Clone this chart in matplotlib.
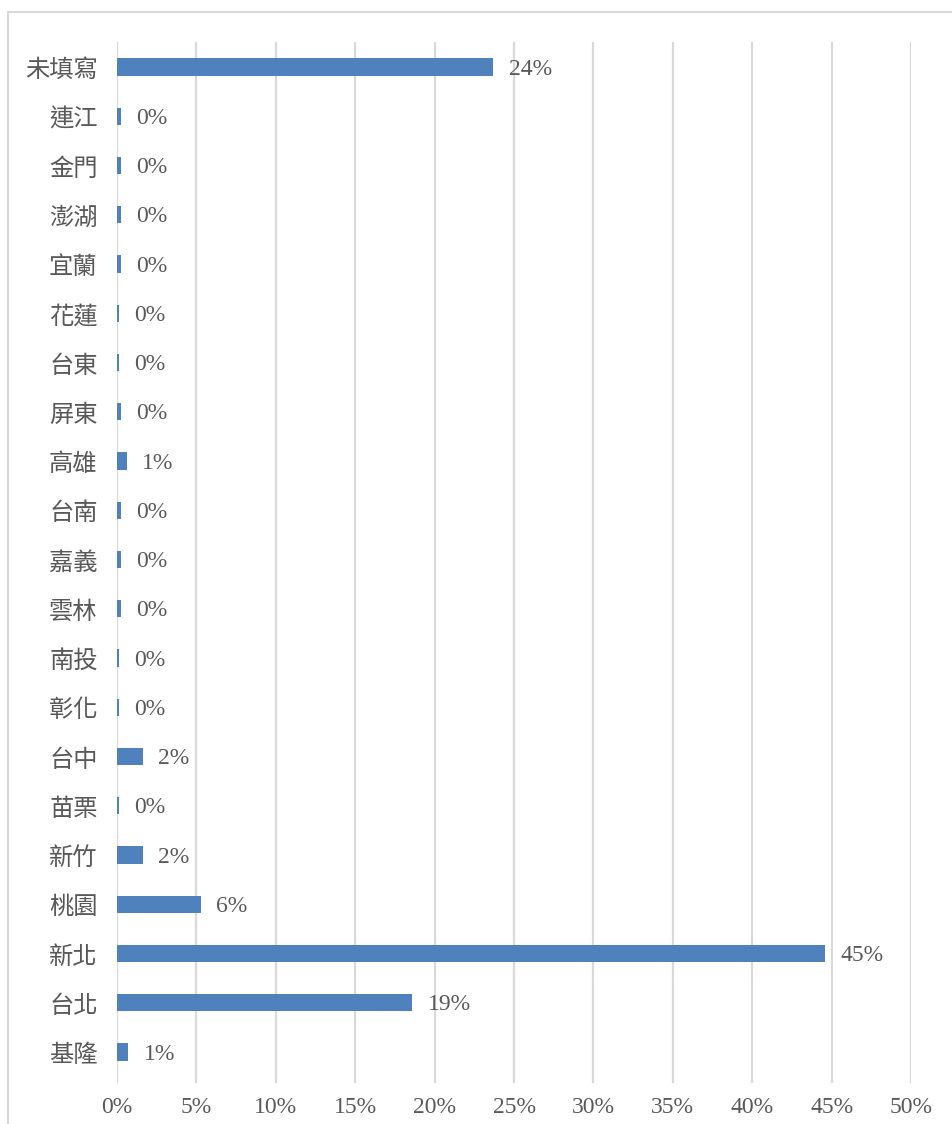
import matplotlib.pyplot as plt
from matplotlib.patches import Rectangle

# categories from bottom to top
regions = ['基隆', '台北', '新北', '桃園', '新竹', '苗栗', '台中', '彰化', '南投', '雲林',
           '嘉義', '台南', '高雄', '屏東', '台東', '花蓮', '宜蘭', '澎湖', '金門', '連江', '未填寫']
share = [0.72, 18.6, 44.6, 5.3, 1.65, 0.1, 1.65, 0.1, 0.1, 0.26,
         0.26, 0.26, 0.63, 0.26, 0.1, 0.1, 0.26, 0.26, 0.26, 0.26, 23.7]
labels = ['1%', '19%', '45%', '6%', '2%', '0%', '2%', '0%', '0%', '0%',
          '0%', '0%', '1%', '0%', '0%', '0%', '0%', '0%', '0%', '0%', '24%']
xticks = [0, 5, 10, 15, 20, 25, 30, 35, 40, 45, 50]

W, H = 952, 1124
fig = plt.figure(figsize=(W / 100, H / 100), dpi=100)
fig.patches.append(Rectangle((8 / W, -0.01), 1.0, 1 - 12 / H + 0.01, transform=fig.transFigure,
                             fill=False, edgecolor='#d9d9d9', linewidth=1.5))

ax = fig.add_axes([117 / W, 1 - 1083 / H, (911 - 117) / W, (1083 - 42) / H])
ypos = list(range(len(regions)))
ax.barh(ypos, share, height=0.35, color='#4f81bd', zorder=3)

serif = ['Liberation Serif', 'DejaVu Serif']
for y, v, t in zip(ypos, share, labels):
    ax.annotate(t, (v, y), xytext=(11, -1.5), textcoords='offset points', ha='left', va='center',
                fontsize=17, color='#595959', family=serif)

ax.set_xlim(0, 50)
ax.set_ylim(-0.63, 20.51)
ax.set_xticks(xticks)
ax.set_xticklabels([f'{t}%' for t in xticks], family=serif, fontsize=17, color='#595959')
ax.set_yticks(ypos)
ax.set_yticklabels(regions, family=['Noto Sans CJK TC', 'DejaVu Sans'], fontsize=17.5, color='#595959')
ax.tick_params(length=0)
ax.tick_params(axis='y', pad=14)
ax.tick_params(axis='x', pad=10)
ax.grid(axis='x', color='#d9d9d9', linewidth=1.6, zorder=0)
for s in ax.spines.values():
    s.set_visible(False)

fig.savefig('out.png', dpi=100)
